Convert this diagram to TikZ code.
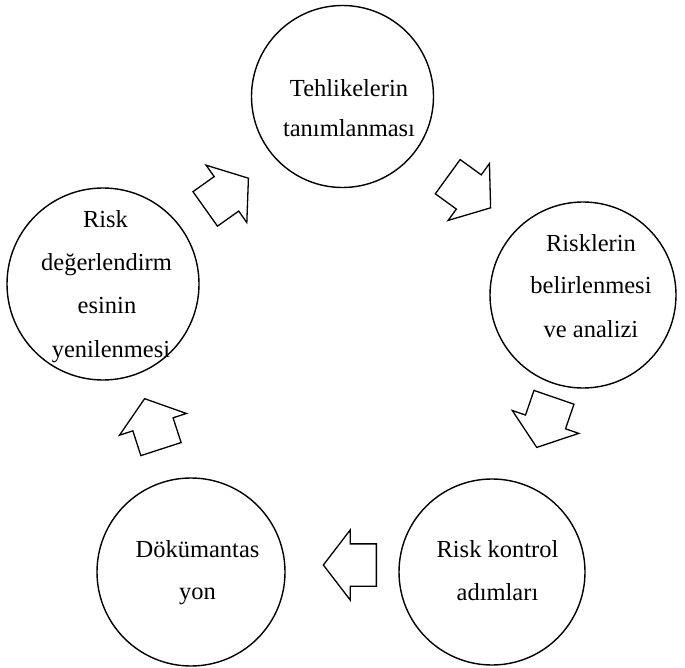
\documentclass[tikz,border=0pt]{standalone}
\usepackage{fontspec}
\setmainfont{Liberation Serif}
\usetikzlibrary{shapes.arrows}
\tikzset{
  ring/.style={draw=black, line width=1.4pt, circle, inner sep=0pt, fill=none},
  lbl/.style={anchor=base, inner sep=0pt, font=\fontsize{24.5}{29}\selectfont},
  blockarrow/.style={draw=black, line width=1.3pt, single arrow, anchor=tail,
    inner xsep=0pt, inner ysep=20.5pt, minimum height=53pt,
    single arrow head extend=14pt, single arrow tip angle=105,
    single arrow head indent=0pt}
}
\begin{document}
\begin{tikzpicture}[x=1pt, y=-1pt]
\useasboundingbox[fill=white] (0,0) rectangle (685,668);
% circles
\node[ring, minimum size=182pt] (c1) at (342.5,96.5) {};
\node[ring, minimum size=186pt] (c2) at (583,295) {};
\node[ring, minimum size=186pt] (c3) at (492,572) {};
\node[ring, minimum size=188pt] (c4) at (191,572) {};
\node[ring, minimum size=192pt] (c5) at (103,284) {};
% labels
\node[lbl] (t1a) at (349,97) {Tehlikelerin};
\node[lbl] (t1b) at (349,137) {tanımlanması};
\node[lbl] (t2a) at (591,252) {Risklerin};
\node[lbl] (t2b) at (591,294) {belirlenmesi};
\node[lbl] (t2c) at (591,337) {ve analizi};
\node[lbl] (t3a) at (497.5,557) {Risk kontrol};
\node[lbl] (t3b) at (497.5,600) {adımları};
\node[lbl] (t4a) at (197.5,557) {Dökümantas};
\node[lbl] (t4b) at (197.5,599) {yon};
\node[lbl] (t5a) at (105.5,228) {Risk};
\node[lbl] (t5b) at (106.5,270) {değerlendirm};
\node[lbl] (t5c) at (107,313) {esinin};
\node[lbl] (t5d) at (111,357) {yenilenmesi};
% block arrows
\node[blockarrow, rotate=35.4] (a1) at (204.7,209.3) {};
\node[blockarrow, rotate=-36] (a2) at (447.2,176.3) {};
\node[blockarrow, rotate=-109] (a3) at (554.2,396.7) {};
\node[blockarrow, rotate=180] (a4) at (377,565) {};
\node[blockarrow, rotate=108] (a5) at (161.2,449.7) {};
\end{tikzpicture}
\end{document}
